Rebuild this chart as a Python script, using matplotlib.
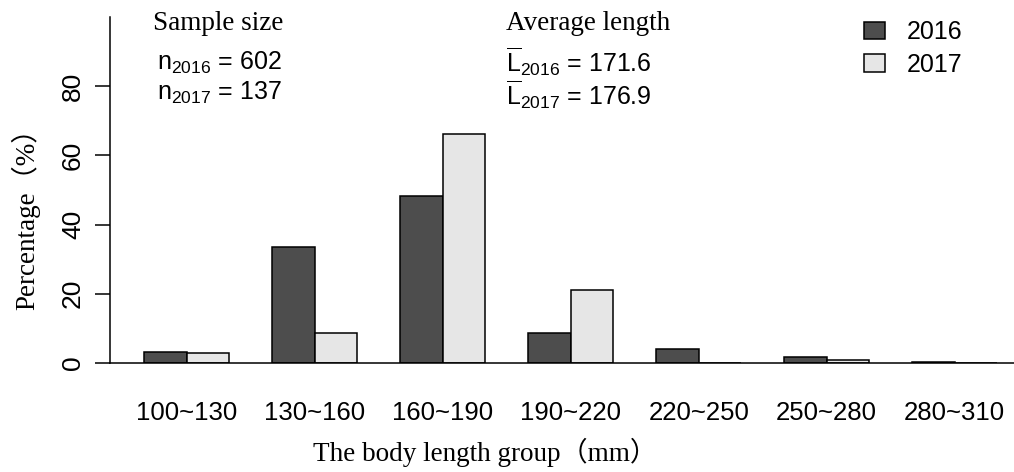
import numpy as np
import matplotlib
matplotlib.use('Agg')
import matplotlib.pyplot as plt

plt.rcParams['font.family'] = ['Liberation Sans', 'Noto Sans CJK SC']
plt.rcParams['mathtext.fontset'] = 'custom'
plt.rcParams['mathtext.rm'] = 'Liberation Sans'
plt.rcParams['mathtext.it'] = 'Liberation Sans:italic'

groups = ['100~130', '130~160', '160~190', '190~220', '220~250', '250~280', '280~310']
pct_2016 = [3.2, 33.5, 48.3, 8.7, 4.1, 1.7, 0.3]
pct_2017 = [2.9, 8.8, 66.2, 21.0, 0.0, 0.9, 0.0]
n_2016, n_2017 = 602, 137
mean_2016, mean_2017 = 171.6, 176.9

serif = ['Liberation Serif', 'Noto Sans CJK SC']

W, H = 1014, 472
fig = plt.figure(figsize=(W / 100, H / 100), dpi=100)
# plot region runs past the right edge, like the R device it came from
ax = fig.add_axes([110 / W, 1 - 363 / H, 921.5 / W, 346 / H])

# R barplot(beside=TRUE): two unit bars per group, one unit gap
idx = np.arange(len(groups))
left_2016 = 1 + 3 * idx
left_2017 = 2 + 3 * idx
b16 = ax.bar(left_2016, pct_2016, width=1, align='edge', color='#4d4d4d',
             edgecolor='black', linewidth=1.1, label='2016')
b17 = ax.bar(left_2017, pct_2017, width=1, align='edge', color='#e6e6e6',
             edgecolor='black', linewidth=1.1, label='2017')

ax.set_xlim(0.2, 21.8)
ax.set_ylim(0, 100)
for side in ['top', 'right']:
    ax.spines[side].set_visible(False)
ax.spines['left'].set_linewidth(1.1)
ax.spines['bottom'].set_linewidth(1.1)

ax.set_yticks([0, 20, 40, 60, 80])
ax.tick_params(axis='y', length=11, width=1.1, pad=7, labelsize=19)
for lab in ax.get_yticklabels():
    lab.set_rotation(90)
    lab.set_va('center')

ax.set_xticks(left_2016 + 1)
ax.set_xticklabels(groups)
ax.tick_params(axis='x', length=0, pad=27, labelsize=18.5)

fig.text(26 / W, 1 - 212 / H, 'Percentage（%）', family=serif, fontsize=19.5,
         rotation=90, ha='center', va='center')
fig.text(313 / W, 1 - 452 / H, 'The body length group（mm）', family=serif,
         fontsize=19.5, ha='left', va='center')

# sample sizes and mean lengths
fig.text(218 / W, 1 - 23 / H, 'Sample size', family=serif, fontsize=19.5,
         ha='center', va='center')
fig.text(157 / W, 1 - 70 / H, r'n$_{\mathregular{2016}}$ = %d' % n_2016,
         fontsize=18, ha='left', va='baseline')
fig.text(157 / W, 1 - 100 / H, r'n$_{\mathregular{2017}}$ = %d' % n_2017,
         fontsize=18, ha='left', va='baseline')

fig.text(588 / W, 1 - 23 / H, 'Average length', family=serif, fontsize=19.5,
         ha='center', va='center')
fig.text(506 / W, 1 - 72 / H,
         r'$\overline{\mathregular{L}}_{\mathregular{2016}}$ = %.1f' % mean_2016,
         fontsize=18, ha='left', va='baseline')
fig.text(506 / W, 1 - 105 / H,
         r'$\overline{\mathregular{L}}_{\mathregular{2017}}$ = %.1f' % mean_2017,
         fontsize=18, ha='left', va='baseline')

fig.legend(handles=[b16, b17], labels=['2016', '2017'], loc='upper left',
           bbox_to_anchor=(864 / W, 1 - 20 / H), frameon=False, fontsize=18,
           handlelength=0.85, handleheight=0.7, handletextpad=0.85,
           labelspacing=0.35, borderpad=0, borderaxespad=0)

fig.savefig('out.png', dpi=100)
